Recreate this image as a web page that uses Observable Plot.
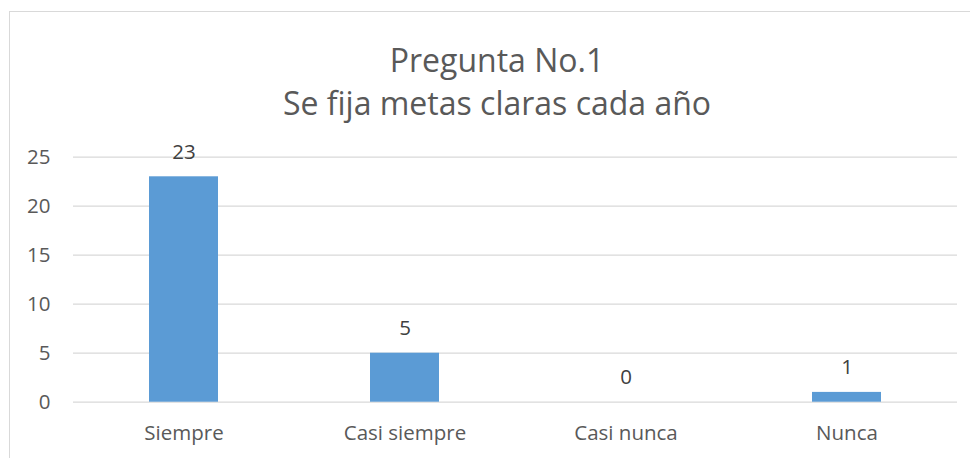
<!DOCTYPE html>
<html>
<head>
<meta charset="utf-8">
<script src="https://cdn.jsdelivr.net/npm/d3@7"></script>
<script src="https://cdn.jsdelivr.net/npm/@observablehq/plot@0.6"></script>
<style>
  html, body { margin: 0; padding: 0; background: #fff; }
  body { width: 970px; height: 458px; overflow: hidden; position: relative; font-family: "Open Sans", sans-serif; }
  #border { position: absolute; left: 9px; top: 11px; width: 990px; height: 470px; border: 1.5px solid #d9d9d9; pointer-events: none; }
  #title { height: 130px; box-sizing: border-box; padding-top: 38px; padding-left: 24px; text-align: center; font-size: 32px; line-height: 43px; color: #595959; }
  #chart svg { display: block; }
</style>
</head>
<body>
<div id="border"></div>
<div id="title"><div>Pregunta No.1</div><div>Se fija metas claras cada año</div></div>
<div id="chart"></div>
<script>
const categories = ["Siempre", "Casi siempre", "Casi nunca", "Nunca"];
const values = [23, 5, 0, 1];
const yTicks = [0, 5, 10, 15, 20, 25];

const data = categories.map((c, i) => ({category: c, value: values[i]}));

const chart = Plot.plot({
  width: 970,
  height: 328,
  marginTop: 26.7,
  marginBottom: 56.3,
  marginLeft: 73,
  marginRight: 13,
  style: {fontFamily: "Open Sans, sans-serif", fontSize: "20.5px", color: "#595959", background: "white"},
  x: {domain: categories, paddingInner: 0.688, paddingOuter: 0.344, label: null},
  y: {domain: [0, 25], label: null},
  marks: [
    Plot.ruleY(yTicks, {stroke: "#d9d9d9", strokeWidth: 1.3}),
    Plot.barY(data, {x: "category", y: "value", fill: "#5B9BD5"}),
    Plot.text(data, {x: "category", y: "value", text: d => String(d.value), lineAnchor: "bottom", dy: -18, fill: "#404040", fontSize: 20.5}),
    Plot.axisY({ticks: yTicks, tickSize: 0, tickPadding: 23, label: null, fill: "#595959"}),
    Plot.axisX({tickSize: 0, tickPadding: 23, label: null, fill: "#595959"})
  ]
});
document.getElementById("chart").appendChild(chart);
</script>
</body>
</html>
